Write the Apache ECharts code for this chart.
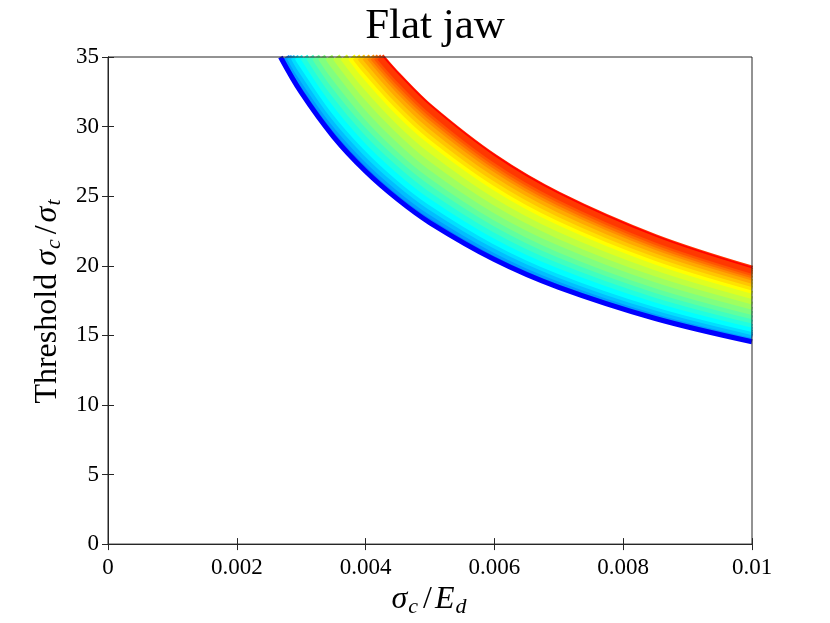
<!DOCTYPE html>
<html>
<head>
<meta charset="utf-8">
<script src="https://cdn.jsdelivr.net/npm/echarts@6/dist/echarts.min.js"></script>
<style>
html,body{margin:0;padding:0;background:#fff;}
#chart{width:830px;height:623px;}
</style>
</head>
<body>
<div id="chart"></div>
<script>
// x positions (sigma_c / E_d) where curve values were read
const xValues = [0.0025, 0.003, 0.0035, 0.004, 0.0045, 0.005, 0.006, 0.007, 0.0085, 0.01];
const yTop = 35;

// thick blue lower boundary curve
const blueStartX = 0.002678;   // where it leaves the top edge (y = 35)
const blueCurve = [36.65, 32.45, 29.28, 26.79, 24.77, 23.09, 20.45, 18.45, 16.21, 14.54];

// colour-map position of each band curve (jet), bottom to top
const bandLevels = [0.25, 0.28125, 0.3125, 0.34375, 0.375, 0.40625, 0.4375, 0.46875, 0.5,
  0.53125, 0.5625, 0.59375, 0.625, 0.653, 0.681, 0.709, 0.737, 0.765, 0.792, 0.82, 0.875];

// x where each band curve leaves the top edge (y = 35)
const bandStartX = [0.002756, 0.002790, 0.002835, 0.002895, 0.002957, 0.003045, 0.003134,
  0.003224, 0.003314, 0.003428, 0.003544, 0.003660, 0.003778, 0.003852, 0.003926, 0.004001,
  0.004075, 0.004127, 0.004179, 0.004230, 0.004283];

// band curves, bottom (light blue) to top (red)
const bandCurves = [
  [37.35, 33.07, 29.85, 27.31, 25.24, 23.53, 20.84, 18.80, 16.52, 14.82],
  [37.66, 33.34, 30.09, 27.53, 25.45, 23.72, 21.01, 18.96, 16.65, 14.94],
  [38.06, 33.70, 30.41, 27.82, 25.72, 23.97, 21.23, 19.16, 16.83, 15.10],
  [38.60, 34.18, 30.84, 28.22, 26.09, 24.32, 21.54, 19.43, 17.07, 15.31],
  [39.14, 34.66, 31.28, 28.62, 26.45, 24.66, 21.84, 19.70, 17.31, 15.53],
  [39.92, 35.35, 31.90, 29.18, 26.98, 25.15, 22.27, 20.10, 17.65, 15.84],
  [40.69, 36.03, 32.51, 29.75, 27.50, 25.63, 22.70, 20.48, 18.00, 16.14],
  [41.47, 36.72, 33.13, 30.32, 28.02, 26.12, 23.14, 20.87, 18.34, 16.45],
  [42.24, 37.40, 33.75, 30.88, 28.54, 26.61, 23.57, 21.26, 18.68, 16.76],
  [43.20, 38.25, 34.52, 31.58, 29.19, 27.21, 24.10, 21.75, 19.10, 17.14],
  [44.17, 39.11, 35.29, 32.29, 29.85, 27.82, 24.64, 22.23, 19.53, 17.52],
  [45.13, 39.96, 36.06, 32.99, 30.50, 28.43, 25.18, 22.72, 19.96, 17.90],
  [46.09, 40.81, 36.83, 33.70, 31.15, 29.04, 25.72, 23.20, 20.38, 18.29],
  [46.69, 41.34, 37.31, 34.13, 31.55, 29.41, 26.05, 23.50, 20.65, 18.52],
  [47.29, 41.87, 37.78, 34.57, 31.96, 29.79, 26.38, 23.80, 20.91, 18.76],
  [47.88, 42.40, 38.26, 35.01, 32.36, 30.16, 26.72, 24.11, 21.18, 19.00],
  [48.48, 42.93, 38.74, 35.44, 32.76, 30.54, 27.05, 24.41, 21.44, 19.24],
  [48.89, 43.29, 39.06, 35.74, 33.04, 30.80, 27.28, 24.61, 21.62, 19.40],
  [49.30, 43.65, 39.39, 36.04, 33.31, 31.05, 27.50, 24.82, 21.80, 19.56],
  [49.70, 44.01, 39.71, 36.34, 33.59, 31.31, 27.73, 25.02, 21.98, 19.72],
  [50.11, 44.37, 40.04, 36.63, 33.87, 31.57, 27.96, 25.23, 22.16, 19.88]
];

const xTickLabels = ['0', '0.002', '0.004', '0.006', '0.008', '0.01'];
const yTickLabels = ['0', '5', '10', '15', '20', '25', '30', '35'];

function jet(t) {
  const c = v => Math.round(255 * Math.max(0, Math.min(1, v)));
  const r = c(Math.min(4 * t - 1.5, -4 * t + 4.5));
  const g = c(Math.min(4 * t - 0.5, -4 * t + 3.5));
  const b = c(Math.min(4 * t + 0.5, -4 * t + 2.5));
  return 'rgb(' + r + ',' + g + ',' + b + ')';
}

// visible part of a curve: the top-edge point, then the read points below the top
function visiblePoints(startX, values) {
  const pts = [[startX, yTop]];
  xValues.forEach((x, j) => { if (x > startX && values[j] < yTop) pts.push([x, values[j]]); });
  return pts;
}

const FONT = 'Liberation Serif';
const AX = '#262626';

const series = [];
bandCurves.forEach((curve, i) => {
  const last = i === bandCurves.length - 1;
  series.push({
    type: 'line',
    xAxisIndex: 0, yAxisIndex: 0,
    data: visiblePoints(bandStartX[i], curve),
    smooth: 0.35,
    showSymbol: false,
    silent: true,
    z: 2,
    lineStyle: { color: jet(bandLevels[i]), width: last ? 1.6 : 8, cap: 'butt' }
  });
});
series.push({
  type: 'line',
  xAxisIndex: 0, yAxisIndex: 0,
  data: visiblePoints(blueStartX, blueCurve),
  smooth: 0.35,
  showSymbol: false,
  silent: true,
  z: 2,
  lineStyle: { color: '#0000ff', width: 5, cap: 'butt' }
});

const richBase = {
  n: { fontFamily: FONT, fontSize: 32, color: '#000' },
  sl: { fontFamily: FONT, fontSize: 32, color: '#000', padding: [0, 3, 0, 3] },
  i: { fontFamily: FONT, fontSize: 32, fontStyle: 'italic', color: '#000' },
  s: { fontFamily: FONT, fontSize: 22, fontStyle: 'italic', color: '#000', padding: [14, 2, 0, 1] }
};

const chart = echarts.init(document.getElementById('chart'), null, { renderer: 'canvas' });
chart.setOption({
  animation: false,
  backgroundColor: '#fff',
  title: {
    text: 'Flat jaw',
    left: 430,
    textAlign: 'center',
    top: 0,
    textStyle: { fontFamily: FONT, fontSize: 43, fontWeight: 'normal', color: '#000' }
  },
  grid: { left: 108, right: 78, top: 57, bottom: 77, show: true, borderColor: AX, borderWidth: 1, z: 50 },
  xAxis: [
    {
      type: 'value', min: 0, max: 0.01, interval: 0.002, position: 'bottom', z: 50,
      axisLine: { show: true, lineStyle: { color: AX, width: 1 } },
      axisTick: { show: true, inside: true, length: 6, lineStyle: { color: AX } },
      splitLine: { show: false },
      axisLabel: {
        margin: 12, fontFamily: FONT, fontSize: 23, color: '#000',
        formatter: v => xTickLabels[Math.round(v / 0.002)]
      },
      name: '{i|σ}{s|c}{sl|/}{i|E}{s|d}',
      nameLocation: 'middle',
      nameGap: 32,
      nameTextStyle: { rich: richBase }
    },
    {
      type: 'value', min: 0, max: 0.01, interval: 0.002, position: 'top', z: 50,
      axisLine: { show: true, lineStyle: { color: AX, width: 1 } },
      axisTick: { show: true, inside: true, length: 6, lineStyle: { color: AX } },
      splitLine: { show: false },
      axisLabel: { show: false }
    }
  ],
  yAxis: [
    {
      type: 'value', min: 0, max: 35, interval: 5, position: 'left', z: 50,
      axisLine: { show: true, lineStyle: { color: AX, width: 1 } },
      axisTick: { show: true, inside: true, length: 6, lineStyle: { color: AX } },
      splitLine: { show: false },
      axisLabel: {
        margin: 9, fontFamily: FONT, fontSize: 23, color: '#000',
        formatter: v => yTickLabels[Math.round(v / 5)]
      },
      name: '{n|Threshold }{i|σ}{s|c}{sl|/}{i|σ}{s|t}',
      nameLocation: 'middle',
      nameGap: 38,
      nameTextStyle: { rich: richBase }
    },
    {
      type: 'value', min: 0, max: 35, interval: 5, position: 'right', z: 50,
      axisLine: { show: true, lineStyle: { color: AX, width: 1 } },
      axisTick: { show: true, inside: true, length: 6, lineStyle: { color: AX } },
      splitLine: { show: false },
      axisLabel: { show: false }
    }
  ],
  series: series
});
</script>
</body>
</html>
